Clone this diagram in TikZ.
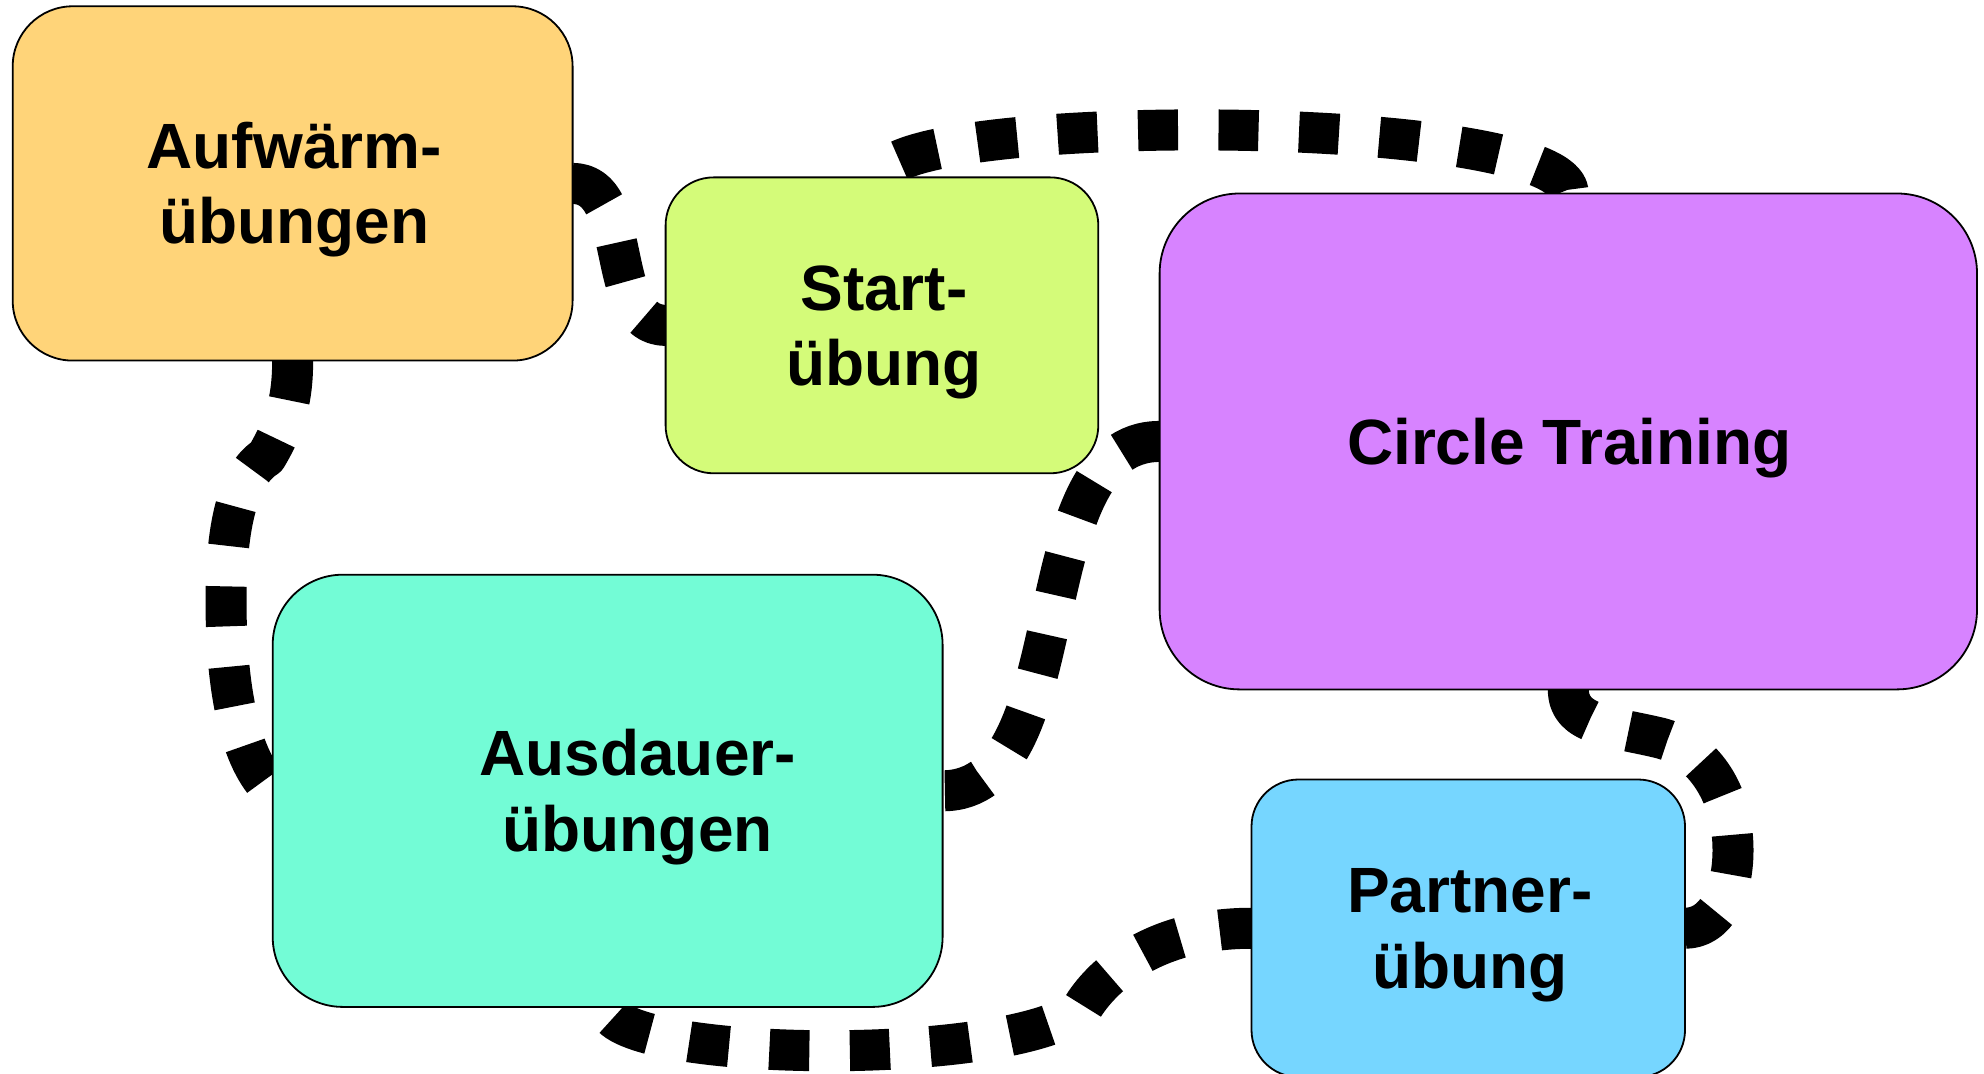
\documentclass[tikz,border=0pt]{standalone}
\usepackage{fontspec}
\setmainfont{Liberation Sans}
\usetikzlibrary{calc}
\pgfdeclarelayer{bg}
\pgfsetlayers{bg,main}
\definecolor{cantaloupe}{HTML}{FFD479}
\definecolor{honeydew}{HTML}{D4FB79}
\definecolor{lavender}{HTML}{D783FF}
\definecolor{spindrift}{HTML}{73FCD6}
\definecolor{sky}{HTML}{76D6FF}
\begin{document}
\begin{tikzpicture}[x=0.5pt,y=-0.5pt,
  box/.style={draw=black, line width=0.9pt, inner sep=0pt, outer sep=0pt, rectangle},
  lbl/.style={anchor=base, inner sep=0pt, outer sep=0pt, font=\fontsize{32pt}{38pt}\bfseries\selectfont},
  conn/.style={line width=20.5pt, dash pattern=on 20pt off 20.25pt, line join=round, line cap=butt}
]
\useasboundingbox (0,0) rectangle (1984,1074);

% boxes
\node[box, fill=cantaloupe, minimum width=279.95pt, minimum height=177.15pt, rounded corners=30pt] (auf) at (292.65,183.45) {};
\node[box, fill=honeydew, minimum width=216.35pt, minimum height=147.95pt, rounded corners=24pt] (start) at (881.95,325.35) {};
\node[box, fill=lavender, minimum width=408.7pt, minimum height=247.95pt, rounded corners=40pt] (circ) at (1568.3,441.45) {};
\node[box, fill=spindrift, minimum width=334.95pt, minimum height=216.1pt, rounded corners=35pt] (aus) at (607.65,790.8) {};
\node[box, fill=sky, minimum width=216.75pt, minimum height=148.75pt, rounded corners=23.5pt] (part) at (1468.25,928.25) {};

% labels
\node[lbl] (auf1) at ($(auf.center)+(1.5,-15)$) {Aufwärm-};
\node[lbl] (auf2) at ($(auf.center)+(1.5,60.5)$) {übungen};
\node[lbl] (start1) at ($(start.center)+(2,-15)$) {Start-};
\node[lbl] (start2) at ($(start.center)+(2,60.5)$) {übung};
\node[lbl] (circ1) at ($(circ.center)+(1,23.5)$) {Circle Training};
\node[lbl] (aus1) at ($(aus.center)+(30,-15)$) {Ausdauer-};
\node[lbl] (aus2) at ($(aus.center)+(30,60.5)$) {übungen};
\node[lbl] (part1) at ($(part.center)+(1.5,-15.5)$) {Partner-};
\node[lbl] (part2) at ($(part.center)+(1.5,60)$) {übung};

% bend points of the curved connectors
\coordinate (j4a) at ($(auf.south)+(-26.4,96.4)$);
\coordinate (j4b) at ($(aus.west)+(-46.7,-190.8)$);
\coordinate (j5) at ($(part.west)+(-169.5,80)$);
\coordinate (j6a) at ($(circ.south)+(91.7,48.6)$);
\coordinate (j6b) at ($(part.east)+(48,-78.25)$);

\begin{pgfonlayer}{bg}
\draw[conn] (auf.east) .. controls +(63,0) and +(-63,0) .. (start.west);
\draw[conn, dash phase=27.5pt] (start.north) .. controls +(0,-65.8) and +(0,-81.9) .. (circ.north);
\draw[conn] (circ.west) .. controls +(-140,0) and +(140,0) .. (aus.east);
\draw[conn] (auf.south) .. controls +(0,39) and +(19,-32) .. (j4a)
   .. controls +(-26,16) and +(0,-80) .. (j4b)
   .. controls +(0,90) and +(-32.7,-30.8) .. (aus.west);
\draw[conn, dash phase=34pt] (aus.south) .. controls +(0,55) and +(-72,60) .. (j5)
   .. controls +(18,-30) and +(-101.5,0) .. (part.west);
\draw[conn] (circ.south) .. controls +(0,36) and +(-50,-12) .. (j6a)
   .. controls +(40,10) and +(0,-60) .. (j6b)
   .. controls +(0,45) and +(30,0) .. (part.east);
\end{pgfonlayer}
\end{tikzpicture}
\end{document}
